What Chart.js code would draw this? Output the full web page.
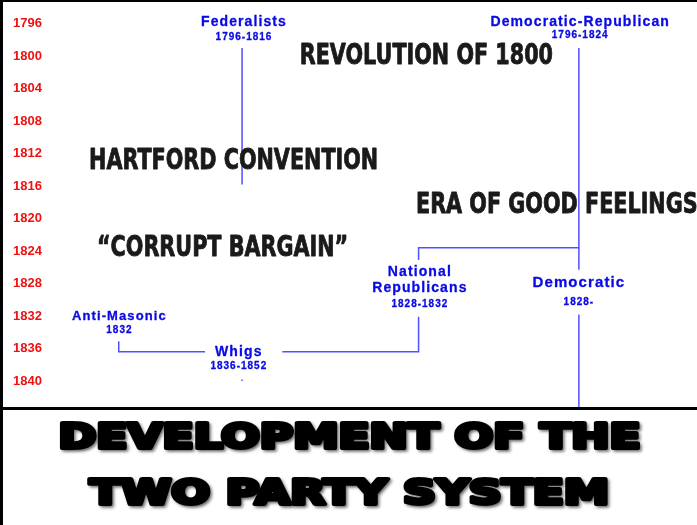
<!DOCTYPE html>
<html>
<head>
<meta charset="utf-8">
<title>Development of the Two Party System</title>
<script src="https://cdn.jsdelivr.net/npm/chart.js"></script>
<style>
  body { margin: 0; background: #fff; }
  canvas { display: block; }
</style>
</head>
<body>
<canvas id="partyChart" width="697" height="525"></canvas>
<script>
// years down the left side
const yearTicks = [1796, 1800, 1804, 1808, 1812, 1816, 1820, 1824, 1828, 1832, 1836, 1840];

// parties and the years they lasted
const partyNames = [['Federalists'], ['Democratic-Republican'], ['National', 'Republicans'], ['Democratic'], ['Anti-Masonic'], ['Whigs']];
const partySpans = ['1796-1816', '1796-1824', '1828-1832', '1828-', '1832', '1836-1852'];

// party lines: [lane, year]  (lane runs 0-100 across the chart)
const federalistLine = [[29.9, 1799], [29.9, 1815.8]];
const demRepLine = [[81.8, 1799], [81.8, 1823.6], [57.1, 1823.6], [57.1, 1825.1]];
const democraticTop = [[81.8, 1823.6], [81.8, 1826.3]];
const democraticLine = [[81.8, 1831.8], [81.8, 1843.2]];
const natRepLine = [[57.1, 1832.1], [57.1, 1836.4], [36.1, 1836.4]];
const antiMasonLine = [[24.2, 1836.4], [10.9, 1836.4], [10.9, 1835.1]];
const whigMark = [[29.9, 1839.8], [29.9, 1840]];

// events written across the timeline
const events = ['REVOLUTION OF 1800', 'HARTFORD CONVENTION', 'ERA OF GOOD FEELINGS', '\u201CCORRUPT BARGAIN\u201D'];
const eventYears = [1800.1, 1813, 1818.4, 1823.7];
const eventLanes = [58.3, 28.6, 78.4, 26.9];

const titleLines = ['DEVELOPMENT OF THE', 'TWO PARTY SYSTEM'];

// where the party names sit (lane, years of each name line, year of the span line)
const labelLanes = [30.2, 82, 57.3, 81.8, 11, 29.4];
const labelYears = [[1795.8], [1795.85], [1826.65, 1828.6], [1827.9], [1832.06], [1836.4]];
const spanYears = [1797.75, 1797.4, 1830.5, 1830.3, 1833.7, 1838.24];
const nameSizes = [14, 14, 14, 15, 13, 14];

const lineBlue = '#5050ff';
const textBlue = '#0a0ae6';

function toPoints(arr){
  return arr.map(p => ({x: p[0], y: p[1]}));
}

const segments = [federalistLine, demRepLine, democraticTop, democraticLine, natRepLine, antiMasonLine, whigMark];

function drawText(ctx, text, x, y, font, color, spacing, sx, stroke){
  ctx.save();
  ctx.translate(x, y);
  ctx.scale(sx || 1, 1);
  ctx.font = font;
  ctx.fillStyle = color;
  ctx.textAlign = 'center';
  ctx.textBaseline = 'middle';
  ctx.letterSpacing = spacing || '0px';
  ctx.fillText(text, 0, 0);
  if(stroke){
    ctx.strokeStyle = color;
    ctx.lineWidth = stroke;
    ctx.lineJoin = 'round';
    ctx.strokeText(text, 0, 0);
  }
  ctx.restore();
}

const decor = {
  id: 'decor',
  afterDatasetsDraw(chart){
    const ctx = chart.ctx;
    const xs = chart.scales.x;
    const ys = chart.scales.y;

    // events
    for(let i = 0; i < events.length; i++){
      drawText(ctx, events[i], xs.getPixelForValue(eventLanes[i]), ys.getPixelForValue(eventYears[i]),
        'bold 28px "DejaVu Sans", sans-serif', '#1a1a1a', '0px', 0.74, 0.9);
    }

    // party names and spans
    for(let i = 0; i < partyNames.length; i++){
      const x = xs.getPixelForValue(labelLanes[i]);
      partyNames[i].forEach((name, j) => {
        drawText(ctx, name, x, ys.getPixelForValue(labelYears[i][j]),
          'bold ' + nameSizes[i] + 'px "Liberation Sans", Arial, sans-serif', textBlue, '1.1px', 1, 0.3);
      });
      drawText(ctx, partySpans[i], x, ys.getPixelForValue(spanYears[i]),
        'bold 10px "Liberation Sans", Arial, sans-serif', textBlue, '1px', 1, 0.3);
    }
  },
  afterDraw(chart){
    const ctx = chart.ctx;
    const area = chart.chartArea;
    const w = chart.width;
    const h = chart.height;

    // frame
    ctx.save();
    ctx.fillStyle = '#000';
    ctx.fillRect(0, 0, 3, h);
    ctx.fillRect(0, 0, w, 2);
    ctx.fillRect(0, area.bottom, w, 3);
    ctx.restore();

    // big title with a soft shadow
    const rows = [439, 495];
    titleLines.forEach((line, i) => {
      ctx.save();
      ctx.translate(w / 2 + 1, rows[i]);
      ctx.scale(1.38, 1);
      ctx.font = 'bold 33px "DejaVu Sans", sans-serif';
      ctx.textAlign = 'center';
      ctx.textBaseline = 'middle';
      ctx.shadowColor = 'rgba(0,0,0,0.45)';
      ctx.shadowOffsetX = 2;
      ctx.shadowOffsetY = 2;
      ctx.shadowBlur = 3;
      ctx.fillStyle = '#000';
      ctx.strokeStyle = '#000';
      ctx.lineWidth = 4;
      ctx.lineJoin = 'round';
      ctx.strokeText(line, 0, 0);
      ctx.fillText(line, 0, 0);
      ctx.restore();
    });
  }
};

const partyChart = new Chart(document.getElementById('partyChart'), {
  type: 'line',
  data: {
    datasets: segments.map(seg => ({
      data: toPoints(seg),
      borderColor: lineBlue,
      borderWidth: 1.5,
      pointRadius: 0,
      fill: false,
      tension: 0
    }))
  },
  options: {
    responsive: false,
    animation: false,
    layout: {
      padding: {top: 4, bottom: 118, left: 0, right: 0}
    },
    plugins: {
      legend: {display: false},
      tooltip: {enabled: false}
    },
    scales: {
      x: {
        type: 'linear',
        min: 0,
        max: 100,
        display: false
      },
      y: {
        type: 'linear',
        reverse: true,
        min: 1793.6,
        max: 1843.2,
        afterBuildTicks: s => { s.ticks = yearTicks.map(v => ({value: v})); },
        afterFit: s => { s.width = 48; s.paddingTop = 0; s.paddingBottom = 0; },
        grid: {display: false, drawTicks: false},
        border: {display: false},
        ticks: {
          color: '#ee1111',
          padding: 6,
          autoSkip: false,
          callback: v => String(v),
          font: {family: '"Liberation Sans", Arial, sans-serif', size: 13, weight: 'bold'}
        }
      }
    }
  },
  plugins: [decor]
});
</script>
</body>
</html>
